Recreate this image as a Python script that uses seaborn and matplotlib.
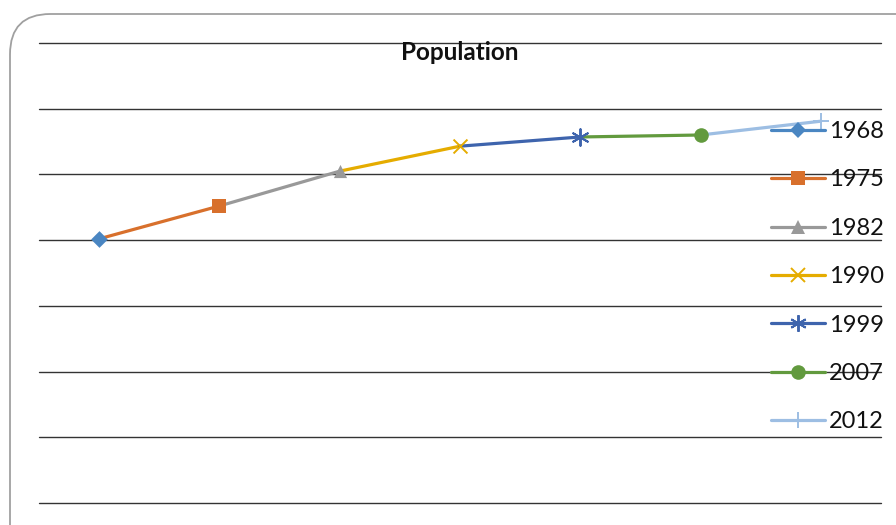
import pandas as pd
import matplotlib.pyplot as plt
import seaborn as sns
from matplotlib.lines import Line2D
from matplotlib.patches import FancyBboxPatch

# --------------------------
# Data
# --------------------------
years = ["1968", "1975", "1982", "1990", "1999", "2007", "2012"]
population = [40.2, 45.2, 50.5, 54.3, 55.7, 56.0, 58.1]
colors = ["#4a86c2", "#d8702c", "#999999", "#e5ac00", "#3e64ad", "#629a3e", "#9dbee3"]
markers = ["D", "s", "^", "x", (6, 2, 0), "o", "+"]
marker_sizes = [8.5, 10.5, 9.5, 10, 12, 10.5, 12]

# each series is drawn from the previous point up to its own point
rows = []
for i in range(1, len(years)):
    rows.append({"year": years[i], "x": i - 1, "pop": population[i - 1]})
    rows.append({"year": years[i], "x": i, "pop": population[i]})
seg_df = pd.DataFrame(rows)
pts_df = pd.DataFrame({"year": years, "x": range(len(years)), "pop": population})
palette = dict(zip(years, colors))


def edge_w(m):
    # line-type markers need an edge, filled ones don't
    return 1.4 if m in ["x", "+"] or isinstance(m, tuple) else 0


sns.set_theme(style="white")
plt.rcParams["font.family"] = ["Lato", "DejaVu Sans"]

fig = plt.figure(figsize=(8.96, 5.25), dpi=100)
ax = fig.add_axes([39 / 896, 22 / 525, 842 / 896, 460 / 525])

sns.lineplot(data=seg_df, x="x", y="pop", hue="year", palette=palette,
             linewidth=2.3, legend=False, ax=ax, zorder=3)

for i, yr in enumerate(years):
    sub = pts_df[pts_df["year"] == yr]
    sns.scatterplot(data=sub, x="x", y="pop", color=colors[i], marker=markers[i],
                    s=marker_sizes[i] ** 2, linewidth=edge_w(markers[i]),
                    edgecolor=colors[i], legend=False, ax=ax, zorder=4)

ax.set_xlim(-0.5, 6.5)
ax.set_ylim(0, 70)
ax.set_yticks(range(0, 71, 10))
ax.yaxis.grid(True, color="#333333", linewidth=1)
for gl in ax.get_ygridlines():
    gl.set_clip_on(False)
ax.xaxis.grid(False)
ax.set_xticks([])
ax.set_yticklabels([])
ax.tick_params(left=False, bottom=False)
ax.set_xlabel("")
ax.set_ylabel("")
for sp in ax.spines.values():
    sp.set_visible(False)

fig.text(460 / 896, 1 - 53 / 525, "Population", ha="center", va="center",
         fontsize=17.5, fontweight="bold", color="#111111")

# legend
handles = []
for i, yr in enumerate(years):
    handles.append(Line2D([0], [0], color=colors[i], linewidth=2.3, marker=markers[i],
                          markersize=marker_sizes[i], markeredgewidth=edge_w(markers[i]),
                          markeredgecolor=colors[i], markerfacecolor=colors[i]))
fig.legend(handles, years, loc="upper left", bbox_to_anchor=(771 / 896, 1 - 121 / 525),
           frameon=False, fontsize=17, handlelength=2.3, handletextpad=0.17,
           labelspacing=1.16, borderpad=0, borderaxespad=0, labelcolor="#111111")

# rounded chart border
border = FancyBboxPatch((10 / 896, -0.2), 1.2, 1 - 14 / 525 + 0.2,
                        boxstyle="round,pad=0,rounding_size=0.045",
                        transform=fig.transFigure, fill=False,
                        edgecolor="#a0a0a0", linewidth=1.3, mutation_aspect=896 / 525)
fig.patches.append(border)

plt.savefig("out.png", dpi=100)
